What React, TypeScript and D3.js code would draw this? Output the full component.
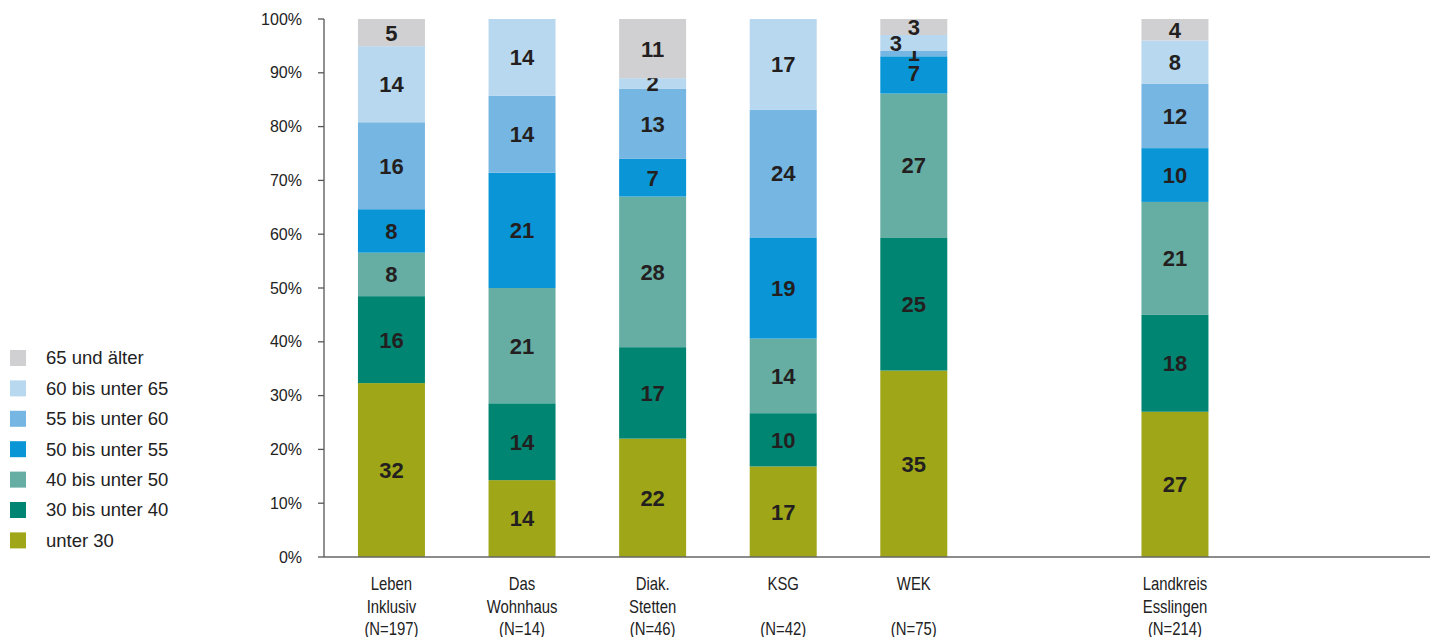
import React from "react";
import * as d3 from "d3";

const categories = ["Leben Inklusiv", "Das Wohnhaus", "Diak. Stetten", "KSG", "WEK", "", "Landkreis Esslingen", " "];
const labelLines = [
  ["Leben", "Inklusiv", "(N=197)"],
  ["Das", "Wohnhaus", "(N=14)"],
  ["Diak.", "Stetten", "(N=46)"],
  ["KSG", "", "(N=42)"],
  ["WEK", "", "(N=75)"],
  [],
  ["Landkreis", "Esslingen", "(N=214)"],
  [],
];
const seriesKeys = ["unter 30", "30 bis unter 40", "40 bis unter 50", "50 bis unter 55", "55 bis unter 60", "60 bis unter 65", "65 und älter"];
const colors = ["#9fa617", "#008573", "#66ada3", "#0a96d6", "#76b6e2", "#b8d8f0", "#d0d0d2"];

const unter30 = [32, 14, 22, 17, 35, 0, 27, 0];
const s30_40 = [16, 14, 17, 10, 25, 0, 18, 0];
const s40_50 = [8, 21, 28, 14, 27, 0, 21, 0];
const s50_55 = [8, 21, 7, 19, 7, 0, 10, 0];
const s55_60 = [16, 14, 13, 24, 1, 0, 12, 0];
const s60_65 = [14, 14, 2, 17, 3, 0, 8, 0];
const s65plus = [5, 0, 11, 0, 3, 0, 4, 0];
const yTicks = [0, 0.1, 0.2, 0.3, 0.4, 0.5, 0.6, 0.7, 0.8, 0.9, 1];

const seriesValues = [unter30, s30_40, s40_50, s50_55, s55_60, s60_65, s65plus];

export default function App() {
  const width = 1435, height = 637;
  const rows = categories.map((c, i) => {
    const r: any = { cat: c };
    seriesKeys.forEach((k, j) => (r[k] = seriesValues[j][i]));
    return r;
  });
  const stack = d3.stack<any>().keys(seriesKeys).offset(d3.stackOffsetExpand);
  const stacked = stack(rows);

  const x = d3.scaleBand<string>().domain(categories).range([324, 1373]).paddingInner(0.487).paddingOuter(0.26);
  const y = d3.scaleLinear().domain([0, 1]).range([557, 19]);
  const font = "'Liberation Sans', Arial, sans-serif";

  return (
    <svg width={width} height={height} style={{ position: "absolute", left: 0, top: 0 }}>
      {stacked.map((s, j) =>
        s.map((d, i) => {
          const cat = categories[i];
          if (!cat.trim()) return null;
          const v = seriesValues[j][i];
          if (!v) return null;
          const x0 = x(cat)!;
          const bw = x.bandwidth();
          const yTop = y(d[1]);
          const yBot = y(d[0]);
          let lx = x0 + bw / 2;
          let ly = (yTop + yBot) / 2;
          if (cat === "WEK" && seriesKeys[j] === "60 bis unter 65") lx -= 18;
          if (cat === "WEK" && seriesKeys[j] === "55 bis unter 60") ly -= 1;
          if (cat === "WEK" && seriesKeys[j] === "50 bis unter 55") ly -= 2;
          return (
            <g key={`${j}-${i}`}>
              <rect x={x0} y={yTop} width={bw} height={yBot - yTop} fill={colors[j]} />
              <text x={lx} y={ly} dy="0.36em" textAnchor="middle" fontFamily={font} fontWeight="bold" fontSize={22} fill="#231f20">
                {v}
              </text>
            </g>
          );
        })
      )}
      <line x1={324} x2={324} y1={19} y2={557} stroke="#555" strokeWidth={1.3} />
      <line x1={324} x2={1430} y1={557} y2={557} stroke="#666" strokeWidth={1.5} />
      {yTicks.map((t) => (
        <g key={t}>
          <line x1={318} x2={324} y1={y(t)} y2={y(t)} stroke="#555" strokeWidth={1.3} />
          <text x={302} y={y(t)} dy="0.35em" textAnchor="end" fontFamily={font} fontSize={16} fill="#222">
            {d3.format(".0%")(t)}
          </text>
        </g>
      ))}
      {categories.map((c, i) => (
        <g key={i} transform={`translate(${x(c)! + x.bandwidth() / 2},0) scale(0.85,1)`}>
          {labelLines[i].map((ln, k) => (
            <text key={k} x={0} y={584 + k * 22.5} dy="0.35em" textAnchor="middle" fontFamily={font} fontSize={17.5} fill="#222">
              {ln}
            </text>
          ))}
        </g>
      ))}
      {seriesKeys.slice().reverse().map((k, idx) => {
        const j = seriesKeys.length - 1 - idx;
        const cy = 358 + idx * 30.4;
        return (
          <g key={k}>
            <rect x={10} y={cy - 8} width={16} height={16} fill={colors[j]} />
            <text x={46} y={cy} dy="0.35em" fontFamily={font} fontSize={18.5} fill="#222">
              {k}
            </text>
          </g>
        );
      })}
    </svg>
  );
}
